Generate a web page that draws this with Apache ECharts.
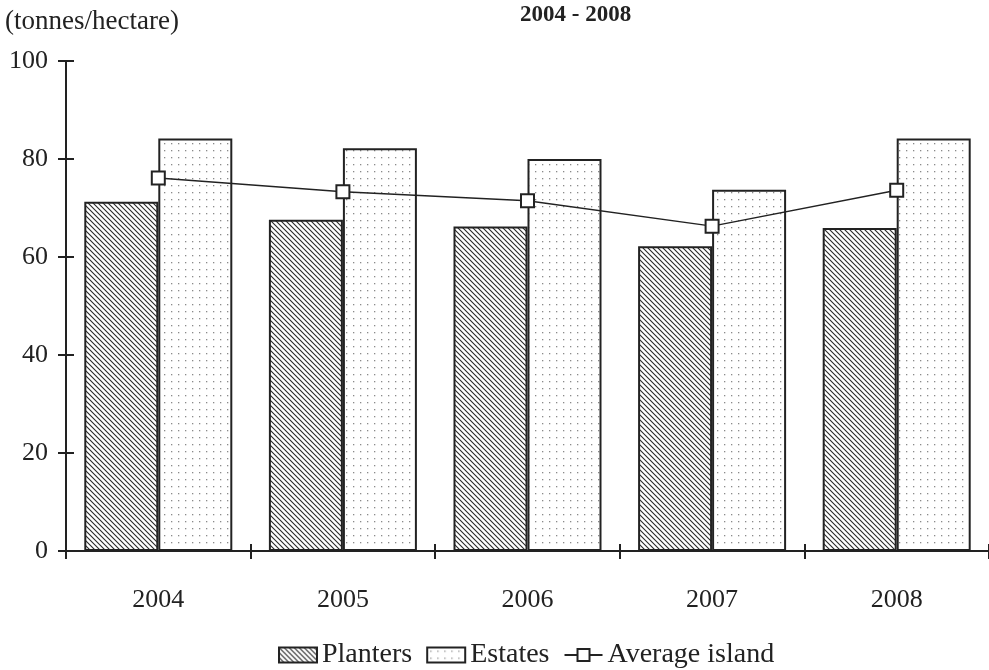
<!DOCTYPE html>
<html>
<head>
<meta charset="utf-8">
<script src="https://cdn.jsdelivr.net/npm/echarts@6/dist/echarts.min.js"></script>
<style>
html,body{margin:0;padding:0;background:#fff;}
#chart{width:989px;height:670px;}
</style>
</head>
<body>
<div id="chart"></div>
<script>
var categories = ['2004', '2005', '2006', '2007', '2008'];
var planters = [71.3, 67.6, 66.2, 62.2, 65.9];
var estates = [84.2, 82.2, 80.0, 73.7, 84.2];
var averageIsland = [76.1, 73.3, 71.5, 66.3, 73.6];
var yTicks = [0, 20, 40, 60, 80, 100];

function hatchPattern() {
  var s = 5;
  var c = document.createElement('canvas');
  c.width = s; c.height = s;
  var g = c.getContext('2d');
  g.fillStyle = '#fff'; g.fillRect(0, 0, s, s);
  g.strokeStyle = '#2a2a2a'; g.lineWidth = 1.1;
  g.beginPath();
  g.moveTo(-1, -1); g.lineTo(s + 1, s + 1);
  g.moveTo(-1, s - 1); g.lineTo(1, s + 1);
  g.moveTo(s - 1, -1); g.lineTo(s + 1, 1);
  g.stroke();
  return c;
}
function dotPattern() {
  var s = 7;
  var c = document.createElement('canvas');
  c.width = s; c.height = s;
  var g = c.getContext('2d');
  g.fillStyle = '#fff'; g.fillRect(0, 0, s, s);
  g.fillStyle = '#8a8a8a';
  g.fillRect(3, 3, 1.3, 1.3);
  return c;
}
var hatch = {image: hatchPattern(), repeat: 'repeat'};
var dots = {image: dotPattern(), repeat: 'repeat'};

var font = 'Liberation Serif';
var chart = echarts.init(document.getElementById('chart'), null, {renderer: 'canvas'});
chart.setOption({
  backgroundColor: '#fff',
  animation: false,
  graphic: [
    {type: 'text', left: 5, top: 8, style: {text: '(tonnes/hectare)', font: '27px "Liberation Serif"', fill: '#222'}},
    {type: 'text', left: 520, top: 4, style: {text: '2004 - 2008', font: 'bold 23px "Liberation Serif"', fill: '#222'}}
  ],
  grid: {left: 66, top: 61, bottom: 119, width: 928, containLabel: false},
  legend: {
    top: 636, left: 273,
    itemWidth: 38, itemHeight: 15, itemGap: 14,
    textStyle: {fontFamily: font, fontSize: 28, color: '#222'},
    data: [
      {name: 'Planters', icon: 'rect'},
      {name: 'Estates', icon: 'rect'},
      {name: 'Average island'}
    ]
  },
  xAxis: [{
    type: 'category', data: categories, boundaryGap: true,
    axisLine: {lineStyle: {color: '#222', width: 2}},
    axisTick: {show: true, length: 8, lineStyle: {color: '#222', width: 2}},
    axisLabel: {fontFamily: font, fontSize: 26, color: '#222', margin: 36}
  }, {
    type: 'category', data: categories, boundaryGap: true, position: 'bottom',
    axisLine: {show: false},
    axisTick: {show: true, inside: true, length: 7, lineStyle: {color: '#222', width: 2}},
    axisLabel: {show: false}
  }],
  yAxis: [{
    type: 'value', min: 0, max: 100, interval: 20,
    splitLine: {show: false},
    axisLine: {show: true, lineStyle: {color: '#222', width: 2}},
    axisTick: {show: true, length: 8, lineStyle: {color: '#222', width: 2}},
    axisLabel: {fontFamily: font, fontSize: 26, color: '#222', margin: 18,
      formatter: function (v) { return yTicks.indexOf(v) >= 0 ? String(v) : ''; }}
  }, {
    type: 'value', min: 0, max: 100, interval: 20, position: 'left',
    splitLine: {show: false},
    axisLine: {show: false},
    axisTick: {show: true, inside: true, length: 8, lineStyle: {color: '#222', width: 2}},
    axisLabel: {show: false}
  }],
  series: [
    {name: 'Planters', type: 'bar', data: planters, barWidth: 74, barGap: '0%',
      itemStyle: {color: hatch, borderColor: '#222', borderWidth: 2}},
    {name: 'Estates', type: 'bar', data: estates, barWidth: 74, barGap: '0%',
      itemStyle: {color: dots, borderColor: '#222', borderWidth: 2}},
    {name: 'Average island', type: 'line', data: averageIsland, z: 5,
      symbol: 'rect', symbolSize: 13, showAllSymbol: true,
      lineStyle: {color: '#222', width: 1.5},
      itemStyle: {color: '#fff', borderColor: '#222', borderWidth: 2}}
  ]
});
</script>
</body>
</html>
